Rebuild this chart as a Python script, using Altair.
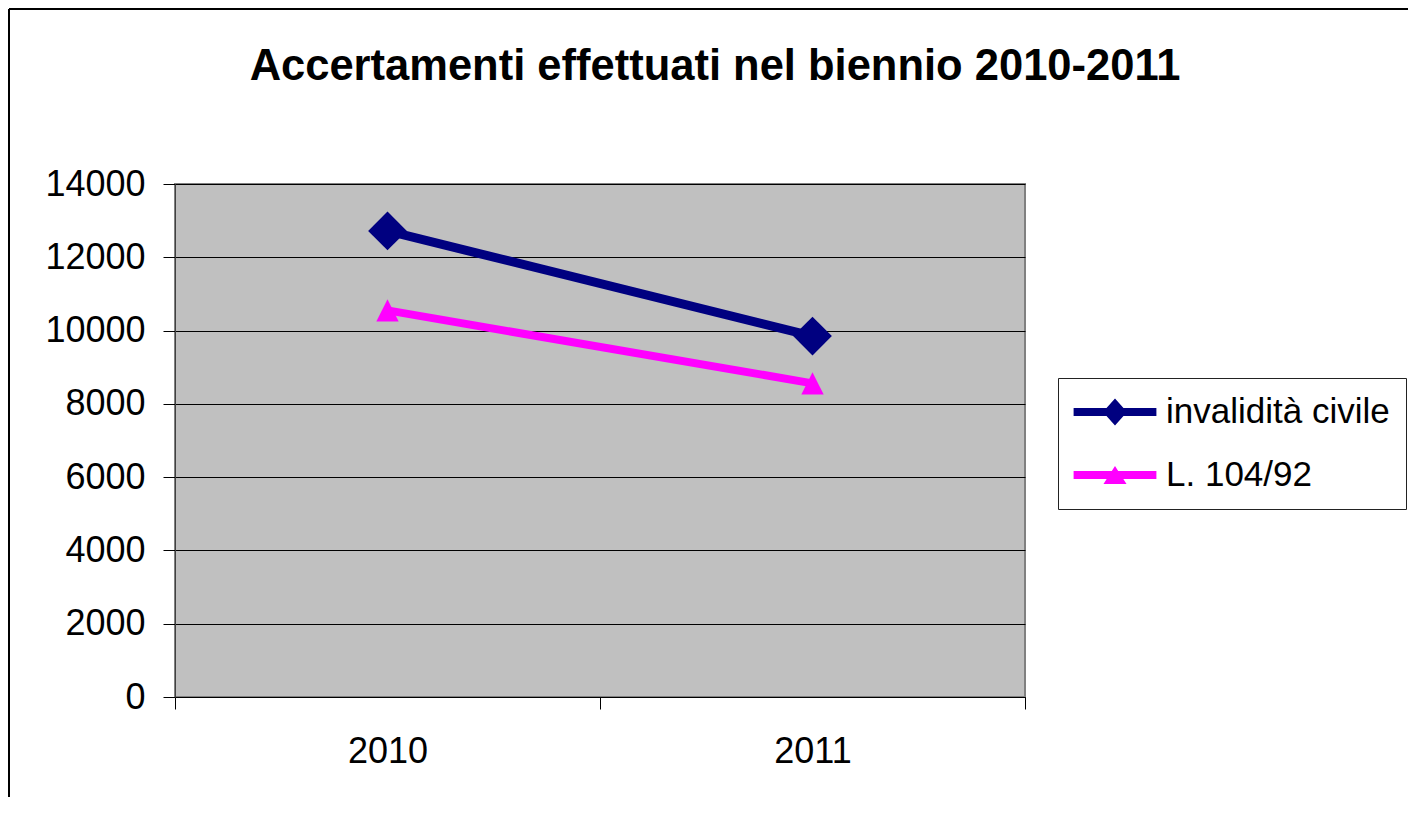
import altair as alt
import pandas as pd

years = ["2010", "2011"]
series = ["invalidità civile", "L. 104/92"]
invalidita = [12720, 9850]
legge104 = [10550, 8560]
colors = ["#000080", "#FF00FF"]
y_ticks = [0, 2000, 4000, 6000, 8000, 10000, 12000, 14000]
title_text = "Accertamenti effettuati nel biennio 2010-2011"

rows = []
for s, vals in zip(series, [invalidita, legge104]):
    for yr, v in zip(years, vals):
        rows.append({"anno": yr, "serie": s, "marker": s, "valore": v})
df = pd.DataFrame(rows)

FONT = "Liberation Sans"
TRI = "M0,-1L1,1L-1,1Z"
DIAMOND_LEG = "M-2.3,-0.22L2.3,-0.22L2.3,0.22L-2.3,0.22Z M0,-0.75L0.67,0L0,0.75L-0.67,0Z"
TRI_LEG = "M-2.3,-0.22L2.3,-0.22L2.3,0.22L-2.3,0.22Z M0,-0.5L0.64,0.5L-0.64,0.5Z"


def color_scale():
    return alt.Scale(domain=series, range=colors)


def make_legend():
    return alt.Legend(
        title=None, orient="none", legendX=883, legendY=194, direction="vertical",
        padding=16, fillColor="white", strokeColor="#222",
        symbolSize=1296, symbolOffset=23, labelOffset=33, labelFontSize=35,
        labelFont=FONT, labelColor="black", rowPadding=27, symbolStrokeWidth=0,
        labelLimit=400, symbolOpacity=1,
    )


x_enc = alt.X("anno:N", bandPosition=0.5,
              scale=alt.Scale(type="band", paddingInner=0, paddingOuter=0),
              axis=alt.Axis(title=None, labelAngle=0, tickBand="extent", tickSize=12,
                            tickColor="black", domainColor="black", labelPadding=25,
                            labelFontSize=36, labelFont=FONT, labelColor="black", grid=False))
y_enc = alt.Y("valore:Q", scale=alt.Scale(domain=[0, 14000], nice=False),
              axis=alt.Axis(values=y_ticks, title=None, grid=True, gridColor="black",
                            gridWidth=1, tickColor="black", tickSize=12, labelPadding=18,
                            labelFontSize=36, labelFont=FONT, labelColor="black",
                            domainColor="#404040", format="d"))

base = alt.Chart(df)

frame_top = base.mark_rule(color="black", strokeWidth=2).encode(
    x=alt.value(-166), x2=alt.value(1300), y=alt.value(-175)
)
frame_left = base.mark_rule(color="black", strokeWidth=2).encode(
    x=alt.value(-166), y=alt.value(-175), y2=alt.value(700)
)

lines = base.mark_line().encode(
    x=x_enc, y=y_enc,
    color=alt.Color("serie:N", scale=color_scale(), legend=None),
    strokeWidth=alt.StrokeWidth("marker:N", scale=alt.Scale(domain=series, range=[9, 8]), legend=None),
)

points = base.mark_point(filled=True, opacity=1, strokeWidth=0).encode(
    x=x_enc, y=y_enc,
    color=alt.Color("serie:N", scale=color_scale(), legend=None),
    shape=alt.Shape("marker:N", scale=alt.Scale(domain=series, range=["diamond", TRI]), legend=None),
    size=alt.Size("marker:N", scale=alt.Scale(domain=series, range=[1500, 500]), legend=None),
)

# invisible layer that only drives the legend symbols (line + marker glyphs)
legend_driver = base.mark_point(filled=True, opacity=0, strokeWidth=0).encode(
    x=x_enc, y=y_enc,
    color=alt.Color("serie:N", scale=color_scale(), legend=make_legend()),
    shape=alt.Shape("serie:N", scale=alt.Scale(domain=series, range=[DIAMOND_LEG, TRI_LEG]),
                    legend=make_legend()),
)

chart = alt.layer(frame_top, frame_left, lines, points, legend_driver).resolve_scale(
    shape="independent", color="independent"
).properties(
    width=850, height=513,
    title=alt.Title(title_text, fontSize=43.5, font=FONT, fontWeight="bold", color="black",
                    anchor="middle", frame="group", dx=115, offset=-115, baseline="alphabetic"),
    padding={"left": 167, "top": 176, "right": 383, "bottom": 100},
    autosize="none",
    background="white",
).configure_view(fill="#C0C0C0", stroke="#808080", strokeWidth=2)

chart.save("out.html", embed_options={"renderer": "svg", "actions": False})
